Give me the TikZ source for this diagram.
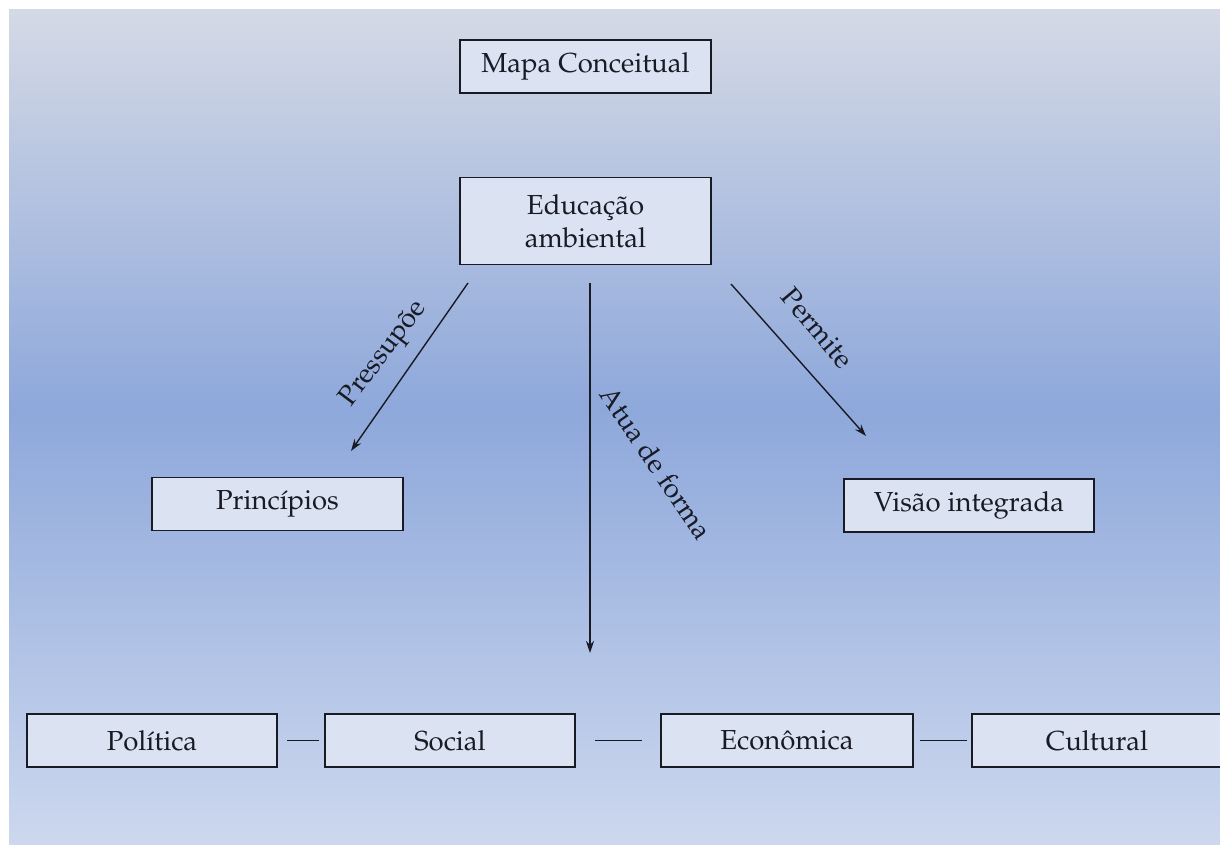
\documentclass[tikz,border=0pt]{standalone}
\usepackage[T1]{fontenc}
\usepackage{mathpazo}
\usetikzlibrary{arrows.meta}
\definecolor{bgtop}{RGB}{212,217,229}
\definecolor{bgmid}{RGB}{142,168,219}
\definecolor{bgbot}{RGB}{205,216,238}
\definecolor{boxfill}{RGB}{219,227,243}
\definecolor{ink}{RGB}{24,26,36}
\begin{document}
\begin{tikzpicture}[x=1pt,y=-1pt,
  concept/.style={draw=ink,line width=1.8pt,fill=boxfill,minimum width=251pt,minimum height=53pt,inner sep=0pt,text=ink,font=\fontsize{27.5}{33}\selectfont,align=center},
  link/.style={draw=ink,line width=1.4pt,-{Stealth[length=12pt,width=8pt]}},
  lbl/.style={text=ink,font=\fontsize{27.5}{33}\selectfont,inner sep=0pt},
  joinline/.style={draw=ink,line width=1.8pt}]
\useasboundingbox (0,0) rectangle (1220,845);
\fill[white] (0,0) rectangle (1220,845);
\shade[top color=bgtop,bottom color=bgmid] (9,10) rectangle (1220,411);
\shade[top color=bgmid,bottom color=bgbot] (9,410) rectangle (1220,845);
% nodes
\node[concept] (mapa) at (585.5,66.5) {Mapa Conceitual};
\node[concept,minimum height=87pt] (edu) at (585.5,221) {Educa\c{c}\~ao\\ambiental};
\node[concept] (princ) at (277.5,504) {Princ\'{\i}pios};
\node[concept,minimum width=250pt] (visao) at (969,505.5) {Vis\~ao integrada};
\node[concept,minimum width=250pt] (pol) at (152,740.5) {Pol\'{\i}tica};
\node[concept,minimum width=250pt] (soc) at (450,740.5) {Social};
\node[concept,minimum width=252pt] (eco) at (787,740.5) {Econ\^omica};
\node[concept,minimum width=250pt] (cult) at (1097,740.5) {Cultural};
% arrow ends
\coordinate (a1s) at (468,283);
\coordinate (a1e) at (351,451);
\coordinate (a2s) at (590,283);
\coordinate (a2e) at (590,653);
\coordinate (a3s) at (731,284);
\coordinate (a3e) at (866,436);
\draw[link] (a1s) -- (a1e);
\draw[link] (a2s) -- (a2e);
\draw[link] (a3s) -- (a3e);
% labels
\node[lbl,rotate=53] (lpress) at (384,354) {Pressup\~oe};
\node[lbl,rotate=-50] (lperm) at (817,328) {Permite};
\node[lbl,rotate=-56] (latua) at (656,463) {Atua de forma};
% bottom connectors
\draw[joinline,shorten <=9pt,shorten >=5pt] (pol) -- (soc);
\draw[joinline,shorten <=19pt,shorten >=18pt] (soc) -- (eco);
\draw[joinline,shorten <=6pt,shorten >=4pt] (eco) -- (cult);
\end{tikzpicture}
\end{document}
